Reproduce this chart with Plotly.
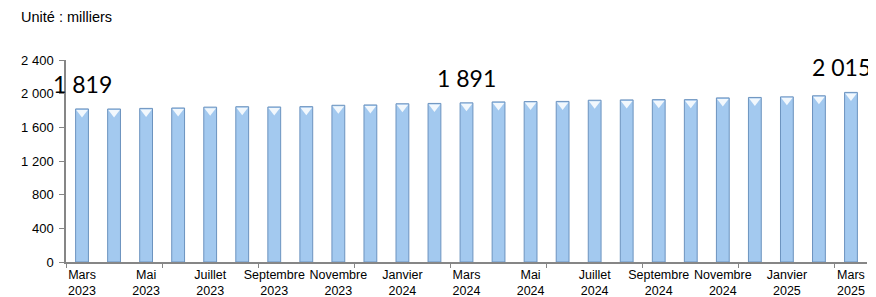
import plotly.graph_objects as go

months = ["Mars 2023", "Avril 2023", "Mai 2023", "Juin 2023", "Juillet 2023", "Août 2023",
          "Septembre 2023", "Octobre 2023", "Novembre 2023", "Décembre 2023",
          "Janvier 2024", "Février 2024", "Mars 2024", "Avril 2024", "Mai 2024", "Juin 2024",
          "Juillet 2024", "Août 2024", "Septembre 2024", "Octobre 2024", "Novembre 2024",
          "Décembre 2024", "Janvier 2025", "Février 2025", "Mars 2025"]
values = [1819, 1818, 1825, 1830, 1840, 1845, 1842, 1846, 1862, 1866,
          1880, 1884, 1891, 1902, 1906, 1908, 1922, 1926, 1929, 1929,
          1950, 1955, 1962, 1975, 2015]
labelled = [0, 12, 24]
y_ticks = [0, 400, 800, 1200, 1600, 2000, 2400]

xs = list(range(len(months)))
tick_idx = xs[::2]
tick_text = [months[i].replace(" ", "<br>") for i in tick_idx]

fig = go.Figure()
fig.add_trace(go.Bar(
    x=xs, y=values, width=0.40,
    marker=dict(color="#A3C9EF", line=dict(color="#6C93BF", width=1)),
    hoverinfo="skip",
))
# bevel highlight at the top of each bar
fig.add_trace(go.Scatter(
    x=xs, y=values, mode="markers",
    marker=dict(symbol="triangle-down", size=10, standoff=3.5,
                color="#F2F8FD", line=dict(width=0)),
    hoverinfo="skip", cliponaxis=False,
))

for i in labelled:
    lab = f"{values[i]:,}".replace(",", " ")
    fig.add_annotation(
        x=i, y=values[i], text=lab, showarrow=False, yshift=25,
        xshift=(-9 if i == len(values) - 1 else 0),
        font=dict(family="Lato, sans-serif", size=23, color="#000000"),
    )

fig.add_annotation(
    xref="paper", yref="paper", x=-0.059, y=1.212, xanchor="left", yanchor="middle",
    text="Unité : milliers", showarrow=False,
    font=dict(family="Liberation Sans, Arial, sans-serif", size=14.5, color="#000000"),
)

fig.update_layout(
    width=868, height=289,
    margin=dict(l=58, r=9, t=52, b=35, autoexpand=False),
    plot_bgcolor="white", paper_bgcolor="white",
    separators=", ",
    showlegend=False,
    bargap=0.6,
    font=dict(family="Liberation Sans, Arial, sans-serif", size=12, color="#000000"),
)
fig.update_xaxes(
    range=[-0.5, len(months) - 0.5], automargin=False,
    tickmode="array", tickvals=tick_idx, ticktext=tick_text,
    ticks="", showline=True, linecolor="#868686", linewidth=1.5,
    showgrid=False, zeroline=False,
    tickfont=dict(size=12.5),
    minor=dict(ticks="outside", tick0=-0.5, dtick=3, ticklen=4, tickcolor="#868686", showgrid=False),
)
fig.update_yaxes(
    range=[0, 2400], automargin=False, tickmode="array", tickvals=y_ticks, tickformat=",d",
    ticks="outside", ticklen=5, tickcolor="#868686",
    showline=True, linecolor="#868686", linewidth=1.5,
    showgrid=False, zeroline=False,
    tickfont=dict(size=13), ticklabelstandoff=3,
)

fig.write_html("out.html")
